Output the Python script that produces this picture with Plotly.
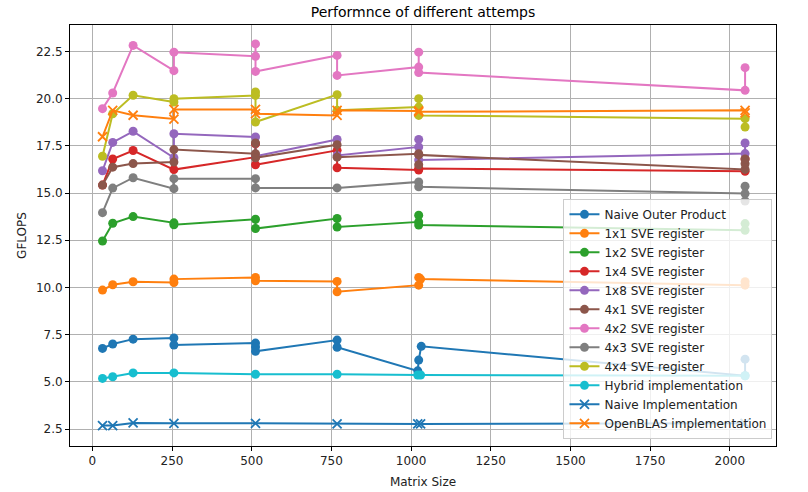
import plotly.graph_objects as go

# ---- data ----
naive_outer_x = [32, 64, 128, 256, 256, 512, 512, 512, 768, 768, 1021, 1024, 1032, 2048, 2048]
naive_outer_y = [6.77, 7.0, 7.26, 7.32, 6.95, 7.05, 6.85, 6.62, 7.21, 6.83, 5.58, 6.15, 6.88, 5.32, 6.2]

sve1x1_x = [32, 64, 128, 256, 256, 512, 512, 768, 768, 1024, 1024, 1030, 2048, 2048]
sve1x1_y = [9.86, 10.14, 10.3, 10.26, 10.44, 10.53, 10.35, 10.32, 9.77, 10.12, 10.53, 10.44, 10.12, 10.3]

sve1x2_x = [32, 64, 128, 256, 256, 512, 512, 768, 768, 1024, 1024, 1024, 2048, 2048]
sve1x2_y = [12.46, 13.4, 13.75, 13.42, 13.32, 13.61, 13.12, 13.65, 13.2, 13.47, 13.82, 13.3, 13.03, 13.38]

sve1x4_x = [32, 64, 128, 256, 512, 512, 512, 768, 768, 1024, 1024, 2048, 2048]
sve1x4_y = [15.42, 16.8, 17.25, 16.24, 16.9, 17.6, 16.5, 17.26, 16.34, 16.22, 16.3, 16.15, 16.8]

sve1x8_x = [32, 64, 128, 256, 256, 512, 512, 768, 768, 1024, 1024, 1024, 2048, 2048]
sve1x8_y = [16.18, 17.68, 18.27, 16.87, 18.14, 17.97, 16.95, 17.84, 16.99, 17.44, 17.84, 16.75, 17.09, 17.65]

sve4x1_x = [32, 64, 128, 256, 256, 512, 512, 512, 768, 768, 1024, 1024, 1024, 2048, 2048, 2048]
sve4x1_y = [15.42, 16.37, 16.56, 16.64, 17.3, 17.08, 17.65, 16.87, 17.56, 16.9, 17.08, 16.5, 17.02, 16.25, 16.55, 16.8]

sve4x2_x = [32, 64, 128, 256, 256, 512, 512, 512, 768, 768, 1024, 1024, 1024, 2048, 2048]
sve4x2_y = [19.47, 20.3, 22.82, 21.48, 22.46, 22.24, 22.9, 21.44, 22.29, 21.23, 21.67, 22.46, 21.38, 20.44, 21.64]

sve4x3_x = [32, 64, 128, 256, 256, 512, 512, 768, 1024, 1024, 2048, 2048, 2048]
sve4x3_y = [13.96, 15.26, 15.81, 15.23, 15.76, 15.76, 15.27, 15.27, 15.59, 15.33, 14.97, 15.36, 14.58]

sve4x4_x = [32, 64, 128, 256, 256, 512, 512, 512, 768, 768, 1024, 1024, 1024, 2048, 2048]
sve4x4_y = [16.95, 19.2, 20.18, 19.82, 20.0, 20.17, 20.35, 18.76, 20.21, 19.38, 19.55, 20.0, 19.11, 18.94, 18.5]

hybrid_x = [32, 64, 128, 256, 512, 768, 1021, 1030, 2048]
hybrid_y = [5.18, 5.27, 5.47, 5.47, 5.4, 5.4, 5.36, 5.36, 5.32]

naive_impl_x = [32, 64, 128, 256, 512, 768, 1021, 1030, 2048]
naive_impl_y = [2.68, 2.68, 2.82, 2.8, 2.8, 2.77, 2.77, 2.77, 2.8]

openblas_x = [32, 64, 128, 256, 256, 512, 512, 768, 768, 1024, 1024, 2048, 2048]
openblas_y = [17.98, 19.38, 19.12, 18.92, 19.43, 19.43, 19.2, 19.11, 19.38, 19.35, 19.3, 19.38, 19.24]

series = [
    ("Naive Outer Product", naive_outer_x, naive_outer_y, "#1f77b4", "circle"),
    ("1x1 SVE register", sve1x1_x, sve1x1_y, "#ff7f0e", "circle"),
    ("1x2 SVE register", sve1x2_x, sve1x2_y, "#2ca02c", "circle"),
    ("1x4 SVE register", sve1x4_x, sve1x4_y, "#d62728", "circle"),
    ("1x8 SVE register", sve1x8_x, sve1x8_y, "#9467bd", "circle"),
    ("4x1 SVE register", sve4x1_x, sve4x1_y, "#8c564b", "circle"),
    ("4x2 SVE register", sve4x2_x, sve4x2_y, "#e377c2", "circle"),
    ("4x3 SVE register", sve4x3_x, sve4x3_y, "#7f7f7f", "circle"),
    ("4x4 SVE register", sve4x4_x, sve4x4_y, "#bcbd22", "circle"),
    ("Hybrid implementation", hybrid_x, hybrid_y, "#17becf", "circle"),
    ("Naive Implementation", naive_impl_x, naive_impl_y, "#1f77b4", "x-thin"),
    ("OpenBLAS implementation", openblas_x, openblas_y, "#ff7f0e", "x-thin"),
]

x_ticks = [0, 250, 500, 750, 1000, 1250, 1500, 1750, 2000]
y_ticks = [2.5, 5.0, 7.5, 10.0, 12.5, 15.0, 17.5, 20.0, 22.5]

FONT = "DejaVu Sans"

fig = go.Figure()
for name, xs, ys, col, sym in series:
    if sym == "circle":
        marker = dict(symbol="circle", size=9, color=col, line=dict(width=0))
    else:
        marker = dict(symbol="x-thin", size=9, color=col, line=dict(width=1.8, color=col))
    fig.add_trace(go.Scatter(x=xs, y=ys, mode="lines+markers", name=name,
                             line=dict(color=col, width=2), marker=marker))

axis_common = dict(showline=True, mirror=True, linecolor="black", linewidth=1,
                   ticks="outside", ticklen=4, tickcolor="black",
                   showgrid=True, gridcolor="#b0b0b0", gridwidth=1, zeroline=False,
                   automargin=False,
                   tickfont=dict(family=FONT, size=12, color="#222"))

fig.update_layout(
    width=808, height=492,
    margin=dict(l=70, r=32, t=25, b=46),
    paper_bgcolor="white", plot_bgcolor="white",
    font=dict(family=FONT, size=12, color="#222"),
    title=dict(text="Performnce of different attemps", x=0.5, xref="paper",
               y=0.976, yref="container", yanchor="middle",
               font=dict(family=FONT, size=14, color="black")),
    xaxis=dict(range=[-70, 2145], tickvals=x_ticks,
               title=dict(text="Matrix Size", standoff=10, font=dict(size=12)), **axis_common),
    yaxis=dict(range=[1.6, 23.9], tickvals=y_ticks, tickformat=".1f",
               title=dict(text="GFLOPS", standoff=6, font=dict(size=12)), **axis_common),
    legend=dict(x=0.995, xanchor="right", y=0.017, yanchor="bottom",
                bgcolor="rgba(255,255,255,0.8)", bordercolor="#cccccc", borderwidth=1,
                font=dict(family=FONT, size=12, color="#222"), tracegroupgap=0,
                itemwidth=30),
)

fig.write_html("out.html", config={"displayModeBar": False},
               post_script="document.body.style.margin='0';document.body.style.overflow='hidden';")
